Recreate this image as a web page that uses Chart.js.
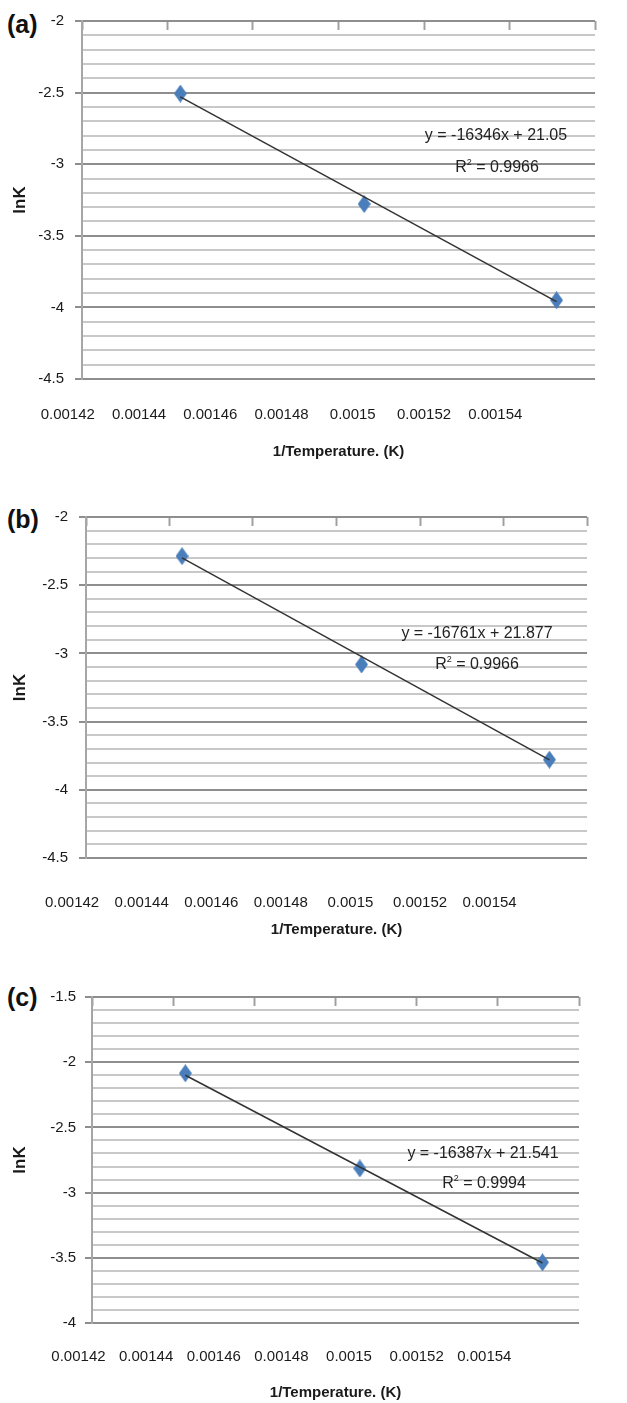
<!DOCTYPE html>
<html lang="en">
<head>
<meta charset="UTF-8">
<title>lnK vs 1/Temperature</title>
<script src="https://cdn.jsdelivr.net/npm/chart.js"></script>
<style>
  body {
    margin: 0;
    background: #fff;
    width: 627px;
    height: 1403px;
    position: relative;
    overflow: hidden;
    font-family: "Liberation Sans", Arial, sans-serif;
  }
  canvas { position: absolute; left: 0; }
  .tag {
    position: absolute;
    left: 7px;
    font: bold 25px "Liberation Sans", Arial, sans-serif;
    color: #111;
    transform: translateY(-50%);
  }
  .eq {
    position: absolute;
    font-size: 16px;
    color: #222;
    white-space: nowrap;
    line-height: 1;
    transform: translate(-50%, -50%);
  }
  .eq sup { font-size: 9px; vertical-align: 7px; line-height: 0; }
</style>
</head>
<body>

<div class="tag" style="top:24px">(a)</div>
<div class="tag" style="top:519px">(b)</div>
<div class="tag" style="top:997px">(c)</div>

<canvas id="chartA" width="627" height="470" style="top:0px"></canvas>
<canvas id="chartB" width="627" height="470" style="top:470px"></canvas>
<canvas id="chartC" width="627" height="463" style="top:940px"></canvas>

<div class="eq" id="eqA1" style="left:496px;top:135px"></div>
<div class="eq" id="eqA2" style="left:497px;top:167px"></div>
<div class="eq" id="eqB1" style="left:477px;top:633px"></div>
<div class="eq" id="eqB2" style="left:477px;top:664px"></div>
<div class="eq" id="eqC1" style="left:483px;top:1153px"></div>
<div class="eq" id="eqC2" style="left:484px;top:1183px"></div>

<script>
  // 1/T values (same three temperatures in every panel)
  const invTemp = [0.001443, 0.001486, 0.001531];

  // ln K
  const lnK_a = [-2.507, -3.278, -3.95];
  const lnK_b = [-2.287, -3.081, -3.779];
  const lnK_c = [-2.085, -2.815, -3.535];

  // trendline ends (at first and last 1/T)
  const trend_a = [-2.53, -3.96];
  const trend_b = [-2.30, -3.78];
  const trend_c = [-2.10, -3.54];

  const eq_a = "y = -16346x + 21.05", r2_a = "0.9966";
  const eq_b = "y = -16761x + 21.877", r2_b = "0.9966";
  const eq_c = "y = -16387x + 21.541", r2_c = "0.9994";

  const xTickValues = [0.00142, 0.00144, 0.00146, 0.00148, 0.0015, 0.00152, 0.00154];
  const xTickLabels = ["0.00142", "0.00144", "0.00146", "0.00148", "0.0015", "0.00152", "0.00154"];

  const FONT = '"Liberation Sans", Arial, sans-serif';
  const BLUE = "#4a7ebb";
  const MAJOR = "#8e8e8e";
  const MINOR = "#c8c8c8";

  function diamond(w, h, color) {
    const c = document.createElement("canvas");
    c.width = w; c.height = h;
    const g = c.getContext("2d");
    g.fillStyle = color;
    g.beginPath();
    g.moveTo(w / 2, 0); g.lineTo(w, h / 2); g.lineTo(w / 2, h); g.lineTo(0, h / 2);
    g.closePath();
    g.fill();
    return c;
  }
  const marker = diamond(13, 18, BLUE);

  const isMajor = v => Math.abs(v * 2 - Math.round(v * 2)) < 1e-6;

  function makePanel(id, lnK, trend, p) {
    const ctx = document.getElementById(id).getContext("2d");
    return new Chart(ctx, {
      type: "scatter",
      data: {
        datasets: [
          {
            type: "line",
            data: [{ x: invTemp[0], y: trend[0] }, { x: invTemp[2], y: trend[1] }],
            borderColor: "#333",
            borderWidth: 1.5,
            pointRadius: 0,
            fill: false
          },
          {
            data: invTemp.map((x, i) => ({ x: x, y: lnK[i] })),
            pointStyle: marker,
            pointRadius: 8,
            showLine: false
          }
        ]
      },
      options: {
        responsive: false,
        animation: false,
        layout: { padding: { top: p.padTop, right: p.padRight, left: 0, bottom: 0 } },
        plugins: { legend: { display: false }, tooltip: { enabled: false } },
        scales: {
          // data axis, sits on top (Excel crosses at max) with inward tick marks
          x: {
            type: "linear",
            position: "top",
            min: 0.00142,
            max: 0.00154,
            ticks: { display: false, stepSize: 0.00002 },
            border: { display: false },
            grid: { drawOnChartArea: false, tickLength: -9, tickColor: "#a0a0a0", tickWidth: 2 },
            afterFit: s => { s.height = 0; }
          },
          // label axis at the bottom; range chosen so labels sit where the picture has them
          xl: {
            type: "linear",
            position: "bottom",
            min: 0.001424,
            max: 0.001568,
            afterBuildTicks: s => { s.ticks = xTickValues.map(v => ({ value: v })); },
            ticks: {
              autoSkip: false,
              maxRotation: 0,
              padding: p.xLabelPad,
              color: "#1a1a1a",
              font: { family: FONT, size: 15 },
              callback: (v, i) => xTickLabels[i]
            },
            border: { display: false },
            grid: { display: false, drawTicks: false },
            title: {
              display: true,
              text: "1/Temperature. (K)",
              color: "#1a1a1a",
              font: { family: FONT, size: 15, weight: "bold" },
              padding: { top: 0, bottom: p.titlePad }
            },
            afterFit: s => { s.height = p.xlHeight; }
          },
          y: {
            min: p.ymin,
            max: p.ymax,
            ticks: {
              stepSize: 0.1,
              autoSkip: false,
              padding: p.yTickPad,
              color: "#1a1a1a",
              font: { family: FONT, size: 15 },
              callback: v => isMajor(v) ? String(Math.round(v * 10) / 10) : ""
            },
            border: { color: "#a6a6a6", width: 2 },
            grid: {
              lineWidth: 2,
              tickLength: 7,
              color: c => isMajor(c.tick.value) ? MAJOR : MINOR,
              tickColor: c => isMajor(c.tick.value) ? MAJOR : "rgba(0,0,0,0)"
            },
            title: {
              display: true,
              text: "lnK",
              color: "#1a1a1a",
              font: { family: FONT, size: 17, weight: "bold" },
              padding: { top: 10, bottom: 0 }
            },
            afterFit: s => { s.width = p.yWidth; }
          }
        }
      }
    });
  }

  makePanel("chartA", lnK_a, trend_a,
    { padTop: 21, padRight: 32, yWidth: 82, ymin: -4.5, ymax: -2, xLabelPad: 27, xlHeight: 91, titlePad: 9, yTickPad: 11 });
  makePanel("chartB", lnK_b, trend_b,
    { padTop: 47, padRight: 40, yWidth: 86, ymin: -4.5, ymax: -2, xLabelPad: 36, xlHeight: 82, titlePad: 1, yTickPad: 11 });
  makePanel("chartC", lnK_c, trend_c,
    { padTop: 57, padRight: 48, yWidth: 92, ymin: -4, ymax: -1.5, xLabelPad: 25, xlHeight: 80, titlePad: 1, yTickPad: 9 });

  const setEq = (id1, id2, eq, r2) => {
    document.getElementById(id1).textContent = eq;
    document.getElementById(id2).innerHTML = "R<sup>2</sup> = " + r2;
  };
  setEq("eqA1", "eqA2", eq_a, r2_a);
  setEq("eqB1", "eqB2", eq_b, r2_b);
  setEq("eqC1", "eqC2", eq_c, r2_c);
</script>
</body>
</html>
